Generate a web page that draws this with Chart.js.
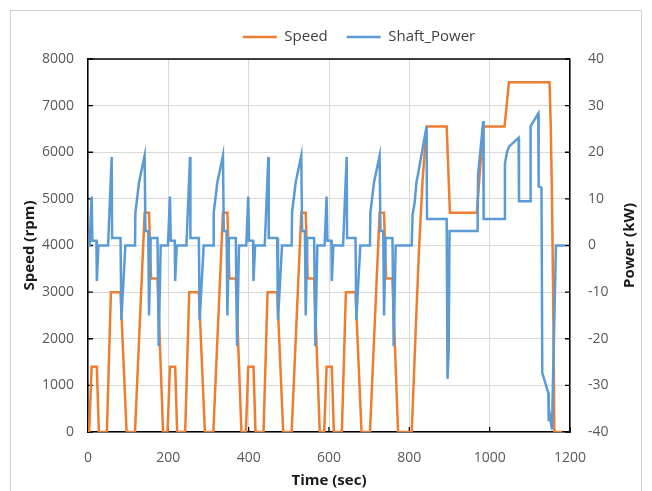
<!DOCTYPE html>
<html><head><meta charset="utf-8">
<script src="https://cdn.jsdelivr.net/npm/chart.js@4.4.1/dist/chart.umd.min.js"></script>
<style>html,body{margin:0;padding:0;background:#fff}canvas{display:block}</style>
</head><body>
<canvas id="c" width="652" height="491"></canvas>
<script>
// ---- data ----
const seriesNames = ['Speed', 'Shaft_Power'];
const speedTime = [
  0,3,9,22,27,47,57,81,96,117,141,152,157,173,187,
  195,198,204,217,222,242,252,276,291,312,336,347,352,368,382,
  390,393,399,412,417,437,447,471,486,507,531,542,547,563,577,
  585,588,594,607,612,632,642,666,681,702,726,737,742,758,772,
  806,815,824,833,843,893,901,968,984,1037,1048,1149,1152,1155,1158,1161,1180];
const speedRpm = [
  0,0,1400,1400,0,0,3000,3000,0,0,4700,4700,3290,3290,0,
  0,0,1400,1400,0,0,3000,3000,0,0,4700,4700,3290,3290,0,
  0,0,1400,1400,0,0,3000,3000,0,0,4700,4700,3290,3290,0,
  0,0,1400,1400,0,0,3000,3000,0,0,4700,4700,3290,3290,0,
  0,2000,3900,5400,6550,6550,4700,4700,6550,6550,7500,7500,6600,5100,3000,0,0];
const powerTime = [
  0,4,9,11,21,22,26,50,59,60,81,83,93,117,118,127,141,143,150,152,156,173,176,181,
  195,199,204,206,216,217,221,245,254,255,276,278,288,312,313,322,336,338,345,347,351,368,371,376,
  390,394,399,401,411,412,416,440,449,450,471,473,483,507,508,517,531,533,540,542,546,563,566,571,
  585,589,594,596,606,607,611,635,644,645,666,668,678,702,703,712,726,728,735,737,741,758,761,766,
  806,808,813,818,820,843,844,893,895,898,900,970,971,984,985,1037,1038,1043,1048,1072,1073,1101,1102,1121,1122,1129,1131,1146,1147,1149,1155,1165,1188];
const powerKw = [
  0,0,10.5,1.0,1.0,-7.6,0,0,19,1.6,1.6,-16,0,0,7,13.5,19.3,3.1,3.1,-15,1.6,1.6,-21.6,0,
  0,0,10.5,1.0,1.0,-7.6,0,0,19,1.6,1.6,-16,0,0,7,13.5,19.3,3.1,3.1,-15,1.6,1.6,-21.6,0,
  0,0,10.5,1.0,1.0,-7.6,0,0,19,1.6,1.6,-16,0,0,7,13.5,19.3,3.1,3.1,-15,1.6,1.6,-21.6,0,
  0,0,10.5,1.0,1.0,-7.6,0,0,19,1.6,1.6,-16,0,0,7,13.5,19.3,3.1,3.1,-15,1.6,1.6,-21.6,0,
  0,6.6,9,13.8,14.5,25.6,5.7,5.7,-28.6,-22.3,3.1,3.1,15,26.7,5.7,5.7,17.5,20,21.2,23.1,9.5,9.5,25.6,28.3,12.7,12.4,-27.3,-31.6,-37.7,-36,-39.5,0,0];
const timeTicks = [0,200,400,600,800,1000,1200];
const speedTicks = [0,1000,2000,3000,4000,5000,6000,7000,8000];
const powerTicks = [-40,-30,-20,-10,0,10,20,30,40];
const axisTitles = {x: 'Time (sec)', y: 'Speed (rpm)', y1: 'Power (kW)'};

// ---- chart ----
Chart.defaults.font.family = "'Open Sans', 'DejaVu Sans', sans-serif";
const ORANGE = '#ED7D31', BLUE = '#5B9BD5';
const toPts = (xs, ys) => xs.map((x, i) => ({x, y: ys[i]}));
const plain = v => String(v);

const framePlugin = {
  id: 'frame',
  afterLayout(chart) {
    const lg = chart.legend;
    const dx = 33, dy = -4.5;
    lg.left += dx; lg.right += dx; lg.top += dy; lg.bottom += dy;
  },
  beforeDraw(chart) {
    const ctx = chart.ctx;
    ctx.save();
    ctx.fillStyle = '#fff';
    ctx.fillRect(0, 0, chart.width, chart.height);
    ctx.strokeStyle = '#cfcfcf';
    ctx.lineWidth = 1;
    ctx.strokeRect(10.5, 10.5, 631, 500);
    ctx.restore();
  },
  beforeDatasetsDraw(chart) {
    const ctx = chart.ctx, a = chart.chartArea;
    const sx = chart.scales.x, sy = chart.scales.y, sy1 = chart.scales.y1;
    ctx.save();
    ctx.strokeStyle = '#000';
    ctx.lineWidth = 1.5;
    ctx.beginPath();
    ctx.moveTo(a.left, a.top); ctx.lineTo(a.right, a.top);
    ctx.stroke();
    ctx.lineWidth = 1.3;
    ctx.beginPath();
    sy.ticks.forEach(t => { const p = sy.getPixelForValue(t.value); ctx.moveTo(a.left, p); ctx.lineTo(a.left + 5, p); });
    sy1.ticks.forEach(t => { const p = sy1.getPixelForValue(t.value); ctx.moveTo(a.right, p); ctx.lineTo(a.right - 5, p); });
    sx.ticks.forEach(t => { const p = sx.getPixelForValue(t.value); ctx.moveTo(p, a.bottom); ctx.lineTo(p, a.bottom - 5); });
    ctx.stroke();
    ctx.restore();
  },
  afterDraw(chart) {
    const ctx = chart.ctx, a = chart.chartArea;
    ctx.save();
    ctx.translate(630, (a.top + a.bottom) / 2);
    ctx.rotate(-Math.PI / 2);
    ctx.font = "bold 15px 'Open Sans', sans-serif";
    ctx.fillStyle = '#1a1a1a';
    ctx.textAlign = 'center';
    ctx.textBaseline = 'middle';
    ctx.fillText(axisTitles.y1, 0, 0);
    ctx.restore();
  }
};

new Chart(document.getElementById('c'), {
  type: 'line',
  data: {
    datasets: [
      {label: seriesNames[0], data: toPts(speedTime, speedRpm), yAxisID: 'y',
       borderColor: ORANGE, backgroundColor: ORANGE, borderWidth: 2.5, pointRadius: 0,
       pointStyle: 'line', tension: 0, order: 2},
      {label: seriesNames[1], data: toPts(powerTime, powerKw), yAxisID: 'y1',
       borderColor: BLUE, backgroundColor: BLUE, borderWidth: 2.5, pointRadius: 0,
       pointStyle: 'line', tension: 0, order: 1}
    ]
  },
  options: {
    responsive: false,
    animation: false,
    layout: {padding: {left: 10, right: 10, top: 15, bottom: 0}},
    plugins: {
      legend: {
        position: 'top',
        labels: {usePointStyle: true, pointStyleWidth: 34, padding: 19,
                 color: '#404040', font: {size: 15},
                 sort: (a, b) => a.datasetIndex - b.datasetIndex}
      },
      tooltip: {enabled: false}
    },
    scales: {
      x: {
        type: 'linear', min: 0, max: 1200,
        afterBuildTicks: s => { s.ticks = timeTicks.map(v => ({value: v})); },
        afterFit: s => { s.height = 59; },
        grid: {color: '#d9d9d9', lineWidth: 1, drawTicks: false},
        border: {color: '#000', width: 1.5},
        ticks: {color: '#595959', font: {size: 14}, padding: 18, maxRotation: 0, callback: plain},
        title: {display: true, text: axisTitles.x, color: '#1a1a1a',
                font: {size: 15, weight: 'bold'}, padding: {top: 0, bottom: 1}}
      },
      y: {
        position: 'left', min: 0, max: 8000,
        afterBuildTicks: s => { s.ticks = speedTicks.map(v => ({value: v})); },
        afterFit: s => { s.width = 78; },
        grid: {color: '#d9d9d9', lineWidth: 1, drawTicks: false},
        border: {color: '#000', width: 1.5},
        ticks: {color: '#595959', font: {size: 14}, padding: 14, callback: plain},
        title: {display: true, text: axisTitles.y, color: '#1a1a1a',
                font: {size: 15, weight: 'bold'}, padding: {top: 11, bottom: 0}}
      },
      y1: {
        position: 'right', min: -40, max: 40,
        afterBuildTicks: s => { s.ticks = powerTicks.map(v => ({value: v})); },
        afterFit: s => { s.width = 72; },
        grid: {display: false, drawTicks: false},
        border: {color: '#000', width: 1.5},
        ticks: {color: '#595959', font: {size: 14}, padding: 18, callback: plain}
      }
    }
  },
  plugins: [framePlugin]
});
</script>
</body></html>
